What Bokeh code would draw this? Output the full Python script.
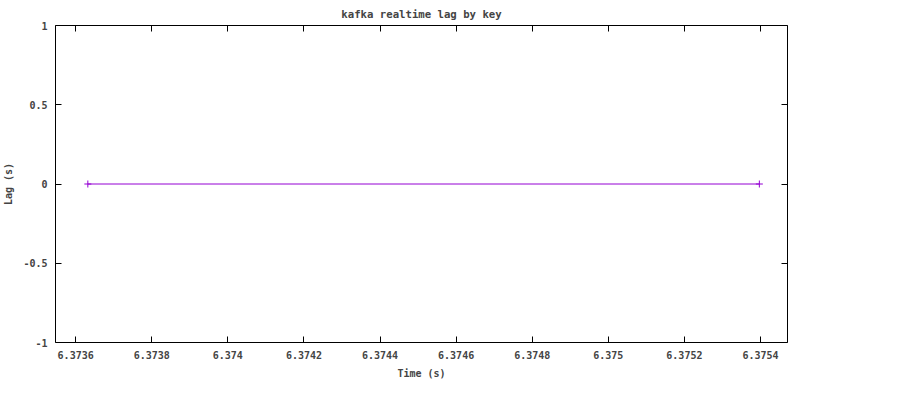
from bokeh.embed import file_html
from bokeh.models import (CustomJSTickFormatter, FixedTicker, Legend,
                          LegendItem, LinearAxis, Range1d)
from bokeh.plotting import figure
from bokeh.resources import INLINE

time_s = [6.373632, 6.375397]
lag_s = [0.0, 0.0]
x_ticks = [6.3736, 6.3738, 6.3740, 6.3742, 6.3744, 6.3746, 6.3748,
           6.3750, 6.3752, 6.3754]
y_ticks = [-1, -0.5, 0, 0.5, 1]

FONT = "DejaVu Sans Mono"
COLOR = "#9400D3"

p = figure(frame_width=732, frame_height=317, output_backend="svg",
           toolbar_location=None,
           x_range=Range1d(6.373547, 6.375471), y_range=Range1d(-1, 1),
           min_border_left=10, min_border_right=0, min_border_top=0,
           min_border_bottom=0, title="kafka realtime lag by key")
p.title.align = "center"
p.title.text_font = FONT
p.title.text_font_size = "8pt"
p.title.text_font_style = "bold"
p.title.standoff = 10
p.grid.visible = False
p.outline_line_color = "black"

fmt = CustomJSTickFormatter(code="return parseFloat(tick.toFixed(4)).toString();")
p.xaxis.ticker = FixedTicker(ticks=x_ticks)
p.yaxis.ticker = FixedTicker(ticks=y_ticks)
p.xaxis.formatter = fmt
p.yaxis.formatter = fmt
p.xaxis.axis_label = "Time (s)"
p.yaxis.axis_label = "Lag (s)"

for ax in list(p.xaxis) + list(p.yaxis):
    ax.major_tick_in = 6
    ax.major_tick_out = 0
    ax.minor_tick_line_color = None
    ax.axis_line_color = None
    ax.major_label_text_font = FONT
    ax.major_label_text_font_size = "7.5pt"
    ax.major_label_text_font_style = "bold"
    ax.major_label_standoff = 8
    ax.axis_label_text_font = FONT
    ax.axis_label_text_font_size = "7.5pt"
    ax.axis_label_text_font_style = "bold"
    ax.axis_label_standoff = 6

for side, ticks in (("above", x_ticks), ("right", y_ticks)):
    ax = LinearAxis(ticker=FixedTicker(ticks=ticks), major_tick_in=6,
                    major_tick_out=0, minor_tick_line_color=None,
                    axis_line_color=None, major_label_text_font_size="0pt",
                    major_label_standoff=0)
    p.add_layout(ax, side)

ln = p.line(time_s, lag_s, line_color=COLOR, line_width=1)
mk = p.scatter(time_s, lag_s, marker="cross", size=7, line_color=COLOR)

legend = Legend(items=[LegendItem(label="key 82", renderers=[ln, mk])],
                location="top_left", border_line_color=None,
                background_fill_alpha=0, label_text_font=FONT,
                label_text_font_size="7.5pt", label_text_font_style="bold",
                glyph_width=34, margin=4, padding=2, spacing=0)
p.add_layout(legend, "right")

open("out.html", "w").write(file_html(p, INLINE))
